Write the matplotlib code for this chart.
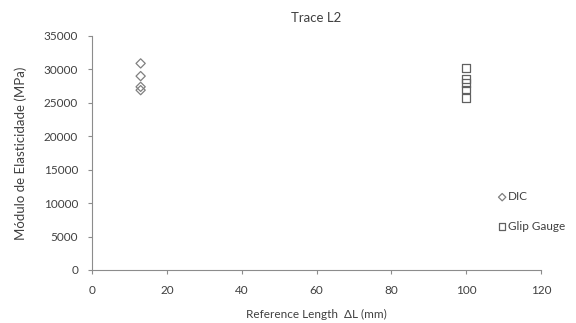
import matplotlib
matplotlib.use("Agg")
import matplotlib.pyplot as plt

dic_x = [13, 13, 13, 13]
dic_y = [30900, 29000, 27400, 26900]
glip_x = [100, 100, 100, 100, 100]
glip_y = [30200, 28600, 28000, 27000, 25700]
xticks = [0, 20, 40, 60, 80, 100, 120]
yticks = [0, 5000, 10000, 15000, 20000, 25000, 30000, 35000]

plt.rcParams['font.family'] = ['Lato', 'DejaVu Sans']
grey = '#8c8c8c'
txt = '#404040'

fig = plt.figure(figsize=(5.76, 3.23), dpi=100)
ax = fig.add_axes([92/576, 1-270/323, (541-92)/576, (270-36)/323])

ax.scatter(dic_x, dic_y, marker='D', s=22, facecolors='none', edgecolors='#808080', linewidths=0.9, label='DIC')
ax.scatter(glip_x, glip_y, marker='s', s=30, facecolors='none', edgecolors='#606060', linewidths=0.9, label='Glip Gauge')

ax.set_xlim(0, 120)
ax.set_ylim(0, 35000)
ax.set_xticks(xticks)
ax.set_yticks(yticks)
ax.tick_params(axis='both', labelsize=8.5, colors=grey, labelcolor=txt, length=3, width=0.8)
ax.tick_params(axis='x', pad=8)
ax.tick_params(axis='y', pad=7)
for s in ['top', 'right']:
    ax.spines[s].set_visible(False)
for s in ['left', 'bottom']:
    ax.spines[s].set_color(grey)
    ax.spines[s].set_linewidth(0.8)

ax.set_title('Trace L2', fontsize=9.5, color=txt, pad=10)
ax.set_xlabel('Reference Length  ΔL (mm)', fontsize=8.5, color=txt, labelpad=9)
ax.set_ylabel('Módulo de Elasticidade (MPa)', fontsize=9.5, color=txt, labelpad=12)

leg = ax.legend(loc='upper left', bbox_to_anchor=(488/576, 1-183/323), bbox_transform=fig.transFigure,
                frameon=False, fontsize=8.5, handletextpad=0.0, labelspacing=1.55,
                handlelength=1.0, borderpad=0.2, scatterpoints=1, markerscale=0.8)
for t in leg.get_texts():
    t.set_color(txt)

fig.savefig('out.png', dpi=100)
